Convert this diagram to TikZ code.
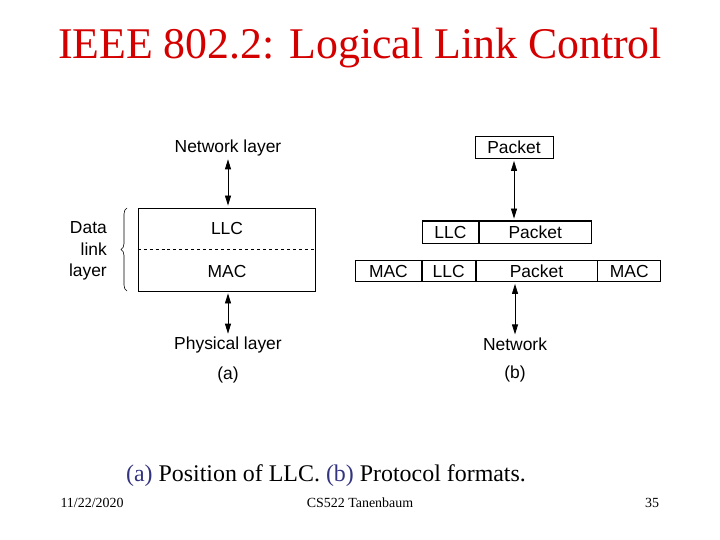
\documentclass[tikz,border=0pt]{standalone}
\usepackage{fontspec}
\setmainfont{Liberation Serif}
\setsansfont{Liberation Sans}
\usepackage{xcolor}
\usetikzlibrary{arrows.meta,positioning,decorations.pathreplacing,calc}

\definecolor{titlered}{HTML}{D40000}
\definecolor{capblue}{HTML}{333380}

\tikzset{
  lbl/.style={font=\sffamily\fontsize{17.5}{20}\selectfont, inner sep=1bp},
  cell/.style={draw, line width=0.8bp, font=\sffamily\fontsize{17.5}{20}\selectfont, minimum height=22bp, inner sep=0pt, anchor=west},
  updown/.style={{Triangle[length=10bp, width=6bp]}-{Triangle[length=10bp, width=6bp]}, line width=0.8bp, shorten <=2bp, shorten >=2bp}
}

\begin{document}
\begin{tikzpicture}[x=1bp, y=-1bp]
\useasboundingbox (0,0) rectangle (720,540);

% === TITLE ===
\node[font=\fontsize{44}{48}\selectfont, titlered] (title) at (360, 48) {IEEE 802.2: Logical Link Control};

% === LEFT PART (a): position of LLC ===
\node[lbl] (netlayer) at (228, 148) {Network layer};
\node[draw, line width=0.8bp, minimum width=177bp, minimum height=83bp, inner sep=0pt] (dll) at (226.5, 249.5) {};
\draw[dashed, line width=0.6bp] (dll.west) -- (dll.east);
\node[lbl] (llcA) at (227, 228) {LLC};
\node[lbl] (macA) at (227, 271) {MAC};
\node[lbl] (phylayer) at (228, 345) {Physical layer};
\node[lbl] (labA) at (228, 375) {(a)};
\draw[updown] (netlayer) -- (netlayer |- dll.north);
\draw[updown] (phylayer |- dll.south) -- (phylayer);

% brace and its label
\draw[decorate, decoration={brace, amplitude=6bp}, line width=0.6bp] (127, 291) -- (127, 208);
\node[lbl, align=right, anchor=east, font=\sffamily\fontsize{17.5}{21.5}\selectfont] (dlabel) at (108, 251) {Data\\link\\layer};

% === RIGHT PART (b): protocol formats ===
\node[cell, minimum width=78bp, anchor=center] (pktTop) at (514, 147.5) {Packet};

% LLC frame
\node[cell, minimum width=56bp] (llcMid) at (422, 232) {LLC};
\node[cell, minimum width=112bp, right=0pt of llcMid] (pktMid) {Packet};
\draw[line width=1.6bp] (llcMid.north west) -- (pktMid.north east);

% MAC frame
\node[cell, minimum width=66bp, minimum height=21bp] (macL) at (355, 271) {MAC};
\node[cell, minimum width=53bp, minimum height=21bp, right=0pt of macL] (llcLow) {LLC};
\node[cell, minimum width=121bp, minimum height=21bp, right=0pt of llcLow] (pktLow) {Packet};
\node[cell, minimum width=63bp, minimum height=21bp, right=0pt of pktLow] (macR) {MAC};

\node[lbl] (network) at (515, 344) {Network};
\node[lbl] (labB) at (515, 374) {(b)};
\draw[updown] (pktTop) -- (pktTop |- pktMid.north);
\draw[updown] (network |- pktLow.south) -- (network);

% === CAPTION AND FOOTER ===
\node[font=\fontsize{24}{28}\selectfont] (caption) at (326, 476) {\textcolor{capblue}{(a)} Position of LLC. \textcolor{capblue}{(b)} Protocol formats.};
\node[font=\fontsize{14}{16}\selectfont, anchor=west] (date) at (57, 503) {11/22/2020};
\node[font=\fontsize{14}{16}\selectfont] (course) at (360, 503) {CS522 Tanenbaum};
\node[font=\fontsize{14}{16}\selectfont] (pageno) at (652, 503) {35};

\end{tikzpicture}
\end{document}
